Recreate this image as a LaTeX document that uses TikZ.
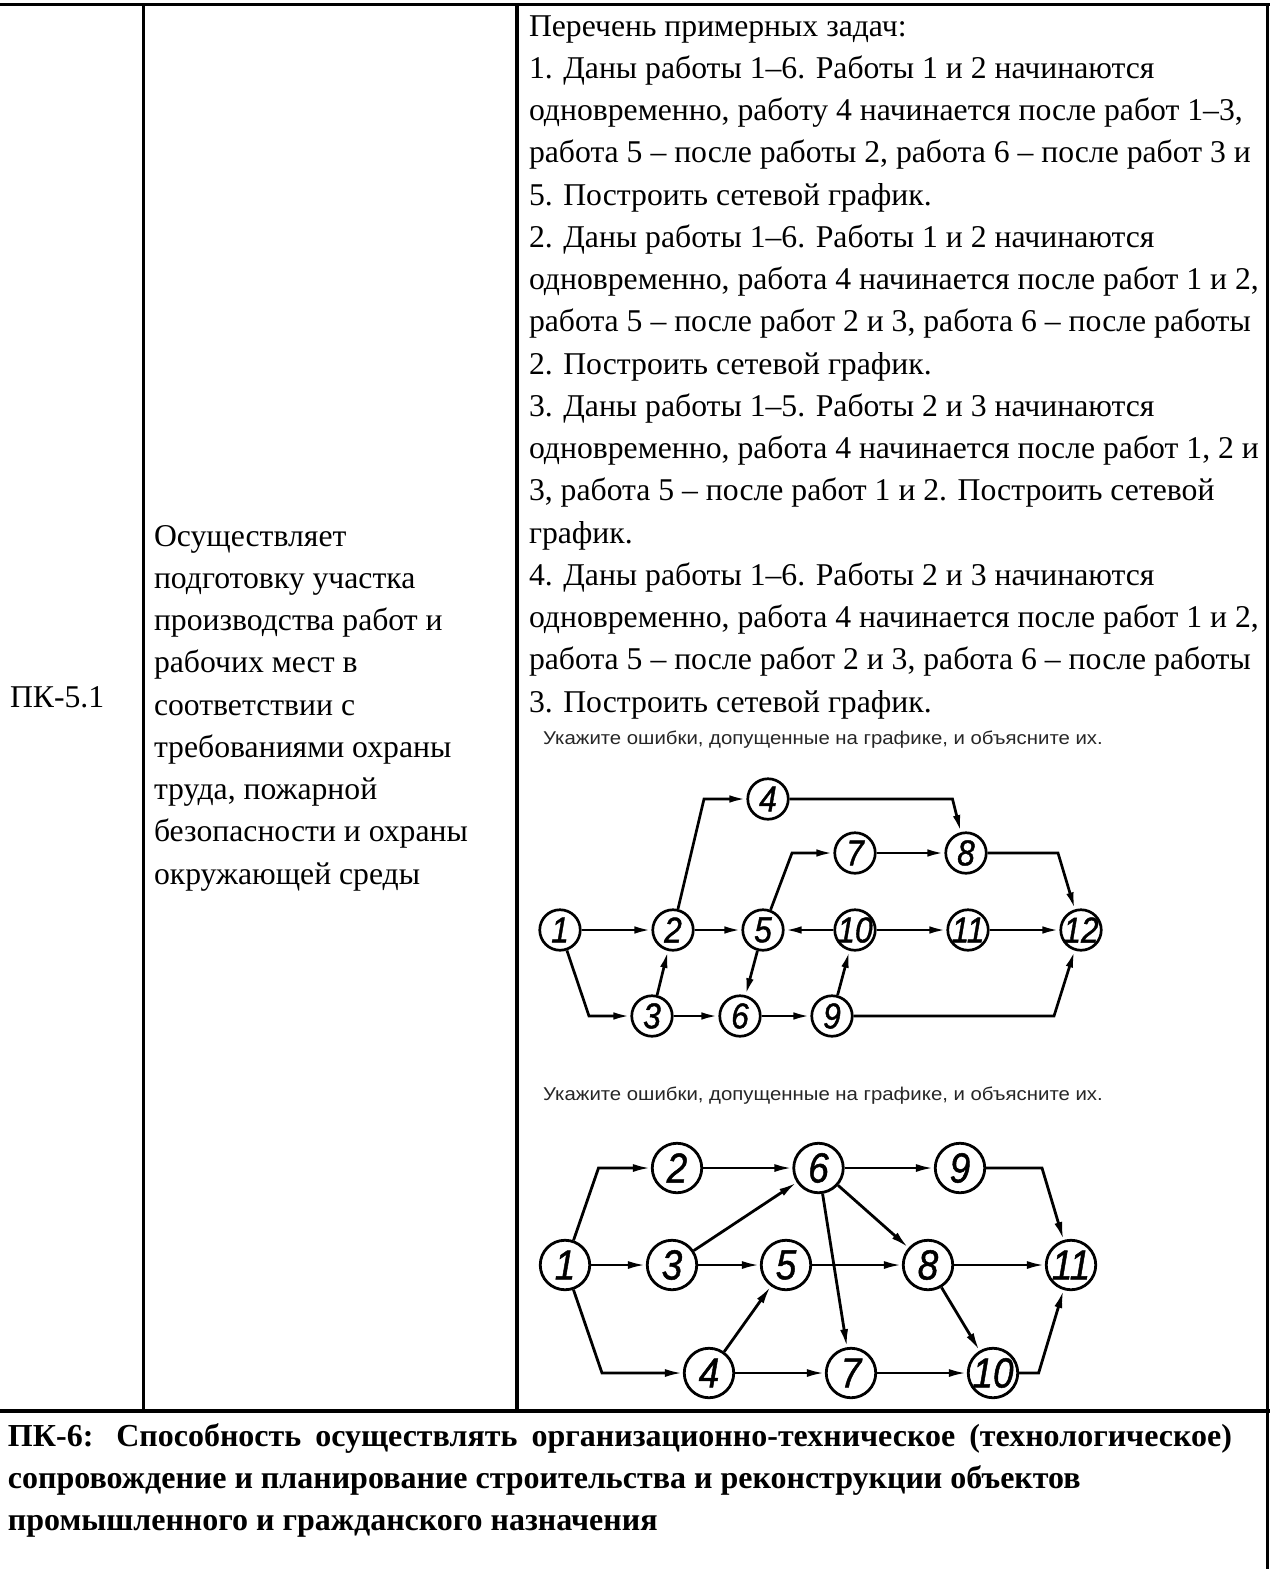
\documentclass[tikz,border=0pt]{standalone}
\usepackage{fontspec}
\usepackage{graphicx}
\setmainfont{Liberation Serif}
\newfontfamily\sansf{Liberation Sans}
\newfontfamily\digf{Liberation Sans}[ItalicFeatures={FakeBold=1.2}]
\usetikzlibrary{arrows.meta}
\definecolor{ttlc}{HTML}{262626}
\newcommand\dg[1]{\makebox[0pt]{\scalebox{0.88}[1]{#1}}}
\newcommand\ttltext{\scalebox{1.1}[1]{Укажите ошибки, допущенные на графике, и объясните их.}}
\begin{document}
\begin{tikzpicture}[x=1pt,y=-1pt,
  tline/.style={line width=3.5pt},
  txt/.style={anchor=base west, inner sep=0pt, outer sep=0pt, font=\fontsize{31.7}{42.25}\selectfont},
  btxt/.style={anchor=base west, inner sep=0pt, outer sep=0pt, font=\fontsize{32}{42.25}\selectfont\bfseries},
  ttl/.style={anchor=base west, inner sep=0pt, font=\sansf\fontsize{18.5}{20}\selectfont, text=ttlc},
  va/.style={circle, draw, line width=2.7pt, minimum size=40.5pt, inner sep=0pt, font=\digf\itshape\fontsize{36}{36}\selectfont},
  vb/.style={circle, draw, line width=2.8pt, minimum size=49.5pt, inner sep=0pt, font=\digf\itshape\fontsize{42}{42}\selectfont},
  ea/.style={line width=2.7pt, -{Latex[length=17pt,width=7.5pt]}},
  eb/.style={line width=2.8pt, -{Latex[length=18pt,width=8pt]}}
]
\useasboundingbox[fill=white] (0,0) rectangle (1272,1569);

% table rules
\draw[tline] (0,4.5) -- (1269.5,4.5);
\draw[tline] (1267.5,3) -- (1267.5,1569);
\draw[tline] (143.3,4.5) -- (143.3,1411);
\draw[tline] (517,4.5) -- (517,1411);
\draw[tline] (0,1411) -- (1269.5,1411);

% first column
\node[txt] (code) at (10,707) {ПК-5.1};

% second column
\foreach \t [count=\i] in {{Осуществляет},{подготовку участка},{производства работ и},{рабочих мест в},{соответствии с},{требованиями охраны},{труда, пожарной},{безопасности и охраны},{окружающей среды}}{
  \node[txt] (m\i) at (154,{546+(\i-1)*42.25}) {\t};
}

% third column
\foreach \t [count=\i] in {{Перечень примерных задач:},{1. Даны работы 1–6. Работы 1 и 2 начинаются},{одновременно, работу 4 начинается после работ 1–3,},{работа 5 – после работы 2, работа 6 – после работ 3 и},{5. Построить сетевой график.},{2. Даны работы 1–6. Работы 1 и 2 начинаются},{одновременно, работа 4 начинается после работ 1 и 2,},{работа 5 – после работ 2 и 3, работа 6 – после работы},{2. Построить сетевой график.},{3. Даны работы 1–5. Работы 2 и 3 начинаются},{одновременно, работа 4 начинается после работ 1, 2 и},{3, работа 5 – после работ 1 и 2. Построить сетевой},{график.},{4. Даны работы 1–6. Работы 2 и 3 начинаются},{одновременно, работа 4 начинается после работ 1 и 2,},{работа 5 – после работ 2 и 3, работа 6 – после работы},{3. Построить сетевой график.}}{
  \node[txt] (r\i) at (529,{36+(\i-1)*42.25}) {\t};
}

% bottom row
\node[btxt] (b1) at (8,1446) {\makebox[1224pt][s]{ПК-6: Способность осуществлять организационно-техническое (технологическое)}};
\node[btxt] (b2) at (8,1488.25) {сопровождение и планирование строительства и реконструкции объектов};
\node[btxt] (b3) at (8,1530.5) {промышленного и гражданского назначения};

% titles
\node[ttl] (t1) at (543,744) {\ttltext};
\node[ttl] (t2) at (543,1100) {\ttltext};

% graph 1
\node[va] (a1) at (560,930) {\dg{1}};
\node[va] (a2) at (673,930) {\dg{2}};
\node[va] (a3) at (652,1016) {\dg{3}};
\node[va] (a4) at (768,799) {\dg{4}};
\node[va] (a5) at (763,930) {\dg{5}};
\node[va] (a6) at (740,1016) {\dg{6}};
\node[va] (a7) at (855,853) {\dg{7}};
\node[va] (a8) at (966,853) {\dg{8}};
\node[va] (a9) at (832,1016) {\dg{9}};
\node[va] (a10) at (855,930) {\dg{10}};
\node[va] (a11) at (968,930) {\dg{11}};
\node[va] (a12) at (1081,930) {\dg{12}};
\coordinate (ca13) at (589,1016);
\coordinate (ca24) at (704,799);
\coordinate (ca48) at (952.5,799);
\coordinate (ca57) at (792,853);
\coordinate (ca812) at (1058,853);
\coordinate (ca912) at (1054,1016);

\draw[ea] (a1) -- (a2);
\draw[ea] (a1) -- (ca13) -- (a3);
\draw[ea] (a3) -- (a2);
\draw[ea] (a2) -- (ca24) -- (a4);
\draw[ea] (a2) -- (a5);
\draw[ea] (a4) -- (ca48) -- (a8);
\draw[ea] (a5) -- (ca57) -- (a7);
\draw[ea] (a7) -- (a8);
\draw[ea] (a10) -- (a5);
\draw[ea] (a5) -- (a6);
\draw[ea] (a3) -- (a6);
\draw[ea] (a6) -- (a9);
\draw[ea] (a9) -- (a10);
\draw[ea] (a10) -- (a11);
\draw[ea] (a11) -- (a12);
\draw[ea] (a8) -- (ca812) -- (a12);
\draw[ea] (a9) -- (ca912) -- (a12);

% graph 2
\node[vb] (g1) at (565,1265) {\dg{1}};
\node[vb] (g2) at (677,1168) {\dg{2}};
\node[vb] (g3) at (672,1265) {\dg{3}};
\node[vb] (g4) at (709,1373) {\dg{4}};
\node[vb] (g5) at (786,1265) {\dg{5}};
\node[vb] (g6) at (818.5,1168) {\dg{6}};
\node[vb] (g7) at (851,1373) {\dg{7}};
\node[vb] (g8) at (928,1265) {\dg{8}};
\node[vb] (g9) at (960,1168) {\dg{9}};
\node[vb] (g10) at (993,1373) {\dg{10}};
\node[vb] (g11) at (1071,1265) {\dg{11}};
\coordinate (cb12) at (598.5,1168);
\coordinate (cb14) at (602,1373);
\coordinate (cb911) at (1042,1168);
\coordinate (cb1011) at (1038.6,1373);

\draw[eb] (g1) -- (cb12) -- (g2);
\draw[eb] (g1) -- (g3);
\draw[eb] (g1) -- (cb14) -- (g4);
\draw[eb] (g2) -- (g6);
\draw[eb] (g3) -- (g6);
\draw[eb] (g3) -- (g5);
\draw[eb] (g4) -- (g5);
\draw[eb] (g4) -- (g7);
\draw[eb] (g6) -- (g9);
\draw[eb] (g6) -- (g8);
\draw[eb] (g6) -- (g7);
\draw[eb] (g5) -- (g8);
\draw[eb] (g7) -- (g10);
\draw[eb] (g8) -- (g11);
\draw[eb] (g8) -- (g10);
\draw[eb] (g9) -- (cb911) -- (g11);
\draw[eb] (g10) -- (cb1011) -- (g11);
\end{tikzpicture}
\end{document}
